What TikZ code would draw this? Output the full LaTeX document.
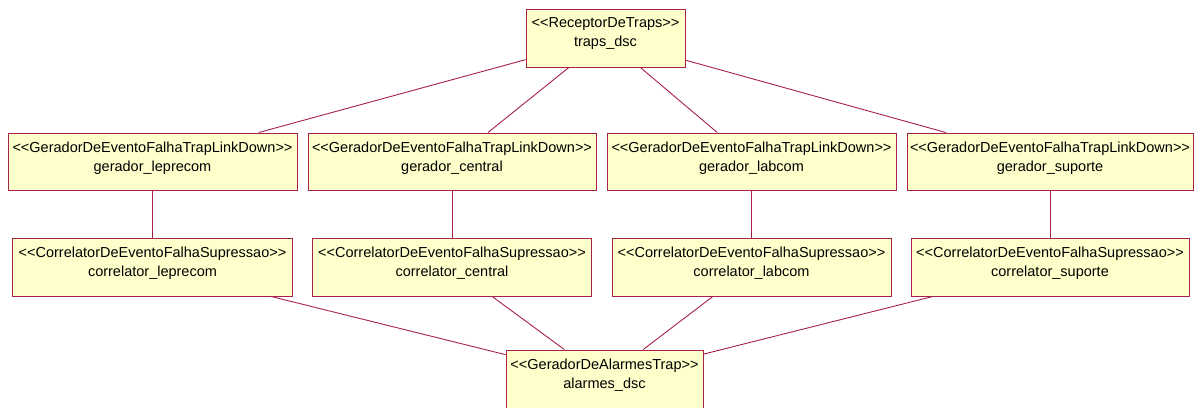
\documentclass[tikz,border=0pt]{standalone}
\usepackage{fontspec}
\setmainfont{Liberation Sans}
\usepackage{xcolor}
\usepackage{tikz}
\definecolor{RoseLine}{HTML}{A8204E}
\definecolor{RoseFill}{HTML}{FFFFCC}
\newcommand{\stereo}[1]{<{}<#1>{}>}
\newcommand{\umlfont}{\fontsize{14.5}{19}\selectfont}
\tikzset{
  umlbox/.style={draw=RoseLine,fill=RoseFill,line width=1pt,inner sep=0pt,minimum height=58pt},
  umltext/.style={anchor=north,yshift=-9pt,inner sep=0pt,align=center,font=\umlfont,text=black},
  link/.style={draw=RoseLine,line width=0.9pt}
}
\begin{document}
\begin{tikzpicture}[x=1pt,y=-1pt]
\clip (0,0) rectangle (1194,407);
\fill[white] (0,0) rectangle (1194,407);
% receptor
\node[umlbox,minimum width=159pt,label={[umltext]north:{\stereo{ReceptorDeTraps}\\traps\_dsc}}] (recv) at (605.5,38) {};
% geradores
\node[umlbox,minimum width=289pt,minimum height=57pt,label={[umltext]north:{\stereo{GeradorDeEventoFalhaTrapLinkDown}\\gerador\_leprecom}}] (gleprecom) at (152.5,161.5) {};
\node[umlbox,minimum width=288pt,minimum height=57pt,label={[umltext]north:{\stereo{GeradorDeEventoFalhaTrapLinkDown}\\gerador\_central}}] (gcentral) at (452,161.5) {};
\node[umlbox,minimum width=289pt,minimum height=57pt,label={[umltext]north:{\stereo{GeradorDeEventoFalhaTrapLinkDown}\\gerador\_labcom}}] (glabcom) at (751.5,161.5) {};
\node[umlbox,minimum width=286pt,minimum height=57pt,label={[umltext]north:{\stereo{GeradorDeEventoFalhaTrapLinkDown}\\gerador\_suporte}}] (gsuporte) at (1050,161.5) {};
% correladores
\node[umlbox,minimum width=280pt,label={[umltext]north:{\stereo{CorrelatorDeEventoFalhaSupressao}\\correlator\_leprecom}}] (cleprecom) at (152.5,267) {};
\node[umlbox,minimum width=279pt,label={[umltext]north:{\stereo{CorrelatorDeEventoFalhaSupressao}\\correlator\_central}}] (ccentral) at (452,267) {};
\node[umlbox,minimum width=279pt,label={[umltext]north:{\stereo{CorrelatorDeEventoFalhaSupressao}\\correlator\_labcom}}] (clabcom) at (751.5,267) {};
\node[umlbox,minimum width=278pt,label={[umltext]north:{\stereo{CorrelatorDeEventoFalhaSupressao}\\correlator\_suporte}}] (csuporte) at (1050,267) {};
% alarmes
\node[umlbox,minimum width=197pt,label={[umltext]north:{\stereo{GeradorDeAlarmesTrap}\\alarmes\_dsc}}] (alarm) at (604.5,379) {};
% ligacoes
\draw[link] (recv) -- (gleprecom);
\draw[link] (recv) -- (gcentral);
\draw[link] (recv) -- (glabcom);
\draw[link] (recv) -- (gsuporte);
\draw[link] (gleprecom) -- (cleprecom);
\draw[link] (gcentral) -- (ccentral);
\draw[link] (glabcom) -- (clabcom);
\draw[link] (gsuporte) -- (csuporte);
\draw[link] (cleprecom) -- (alarm);
\draw[link] (ccentral) -- (alarm);
\draw[link] (clabcom) -- (alarm);
\draw[link] (csuporte) -- (alarm);
\end{tikzpicture}
\end{document}
